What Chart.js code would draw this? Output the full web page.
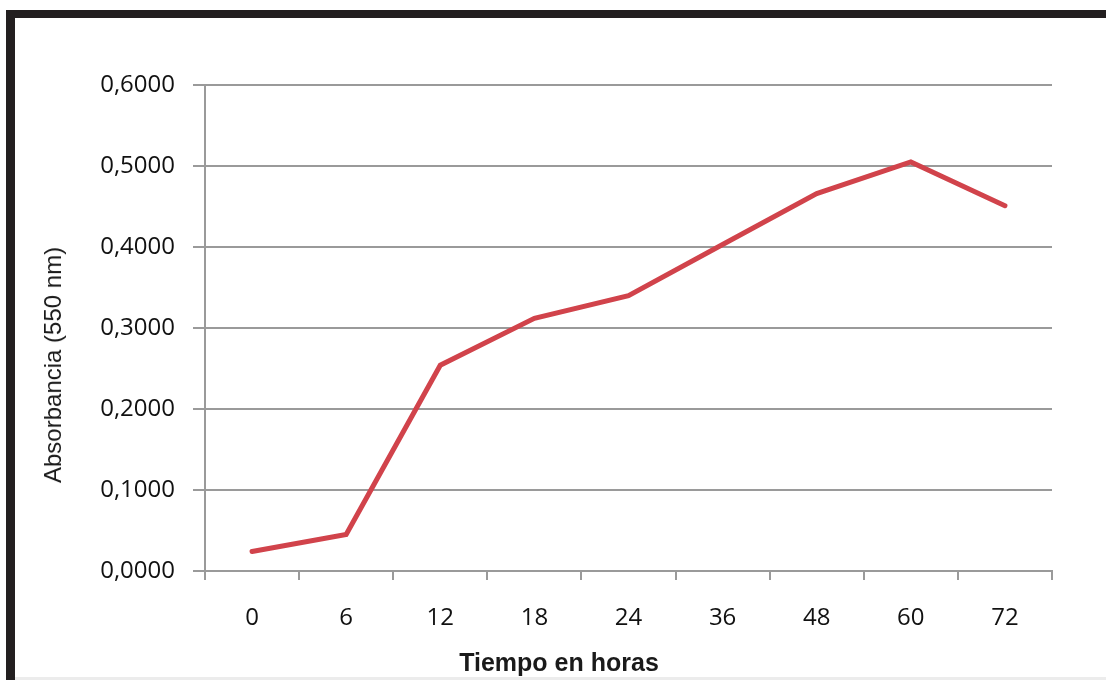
<!DOCTYPE html>
<html>
<head>
<meta charset="utf-8">
<script src="https://cdn.jsdelivr.net/npm/chart.js@4"></script>
<style>
  html, body { margin: 0; padding: 0; background: #fff; }
  #wrap { position: relative; width: 1106px; height: 680px; overflow: hidden; background: #fff; }
  #frameTop { position: absolute; left: 6px; top: 10px; width: 1100px; height: 8px; background: #231f20; }
  #frameLeft { position: absolute; left: 6px; top: 10px; width: 9px; height: 670px; background: #231f20; }
  #frameBottom { position: absolute; left: 15px; top: 677px; width: 1091px; height: 3px; background: #ececec; }
  canvas { position: absolute; left: 0; top: 0; }
  .axis-title { position: absolute; color: #1a1a1a; font-family: "Liberation Sans", Arial, sans-serif; white-space: nowrap; }
  #yTitle { left: 53px; top: 365px; font-size: 24px; line-height: 24px; transform: translate(-50%, -50%) rotate(-90deg); }
  #xTitle { left: 559px; top: 650px; font-size: 25px; line-height: 25px; font-weight: bold; transform: translateX(-50%); }
</style>
</head>
<body>
<div id="wrap">
  <canvas id="chart" width="1106" height="680"></canvas>
  <div id="frameTop"></div>
  <div id="frameLeft"></div>
  <div id="frameBottom"></div>
  <div class="axis-title" id="yTitle">Absorbancia (550 nm)</div>
  <div class="axis-title" id="xTitle">Tiempo en horas</div>
</div>
<script>
// Sampling times (hours) and measured absorbance at 550 nm
const hours = ['0', '6', '12', '18', '24', '36', '48', '60', '72'];
const absorbance = [0.024, 0.045, 0.254, 0.312, 0.340, 0.403, 0.466, 0.505, 0.451];
const yTickValues = [0, 0.1, 0.2, 0.3, 0.4, 0.5, 0.6];

const gridGrey = '#9a9a9a';
const tickFont = { family: '"Open Sans", "Liberation Sans", sans-serif', size: 24 };

new Chart(document.getElementById('chart'), {
  type: 'line',
  data: {
    labels: hours,
    datasets: [{
      data: absorbance,
      borderColor: '#d1434b',
      borderWidth: 5,
      borderCapStyle: 'round',
      pointRadius: 0,
      tension: 0,
      fill: false
    }]
  },
  options: {
    responsive: false,
    animation: false,
    layout: { padding: { top: 85, right: 54, bottom: 0, left: 0 } },
    plugins: { legend: { display: false }, tooltip: { enabled: false } },
    scales: {
      x: {
        type: 'category',
        offset: true,
        grid: {
          offset: true,
          drawOnChartArea: false,
          drawTicks: true,
          tickLength: 9,
          color: gridGrey,
          lineWidth: 2
        },
        border: { display: true, color: gridGrey, width: 2 },
        ticks: { color: '#111', font: tickFont, padding: 24, maxRotation: 0 },
        afterFit: (scale) => { scale.height = 109; }
      },
      y: {
        min: 0,
        max: 0.6,
        afterBuildTicks: (scale) => { scale.ticks = yTickValues.map(v => ({ value: v })); },
        grid: {
          drawTicks: true,
          tickLength: 12,
          color: gridGrey,
          lineWidth: 2
        },
        border: { display: true, color: gridGrey, width: 2 },
        ticks: {
          color: '#111',
          font: tickFont,
          padding: 18,
          callback: (v) => Number(v).toFixed(4).replace('.', ',')
        },
        afterFit: (scale) => { scale.width = 205; }
      }
    }
  }
});
</script>
</body>
</html>
